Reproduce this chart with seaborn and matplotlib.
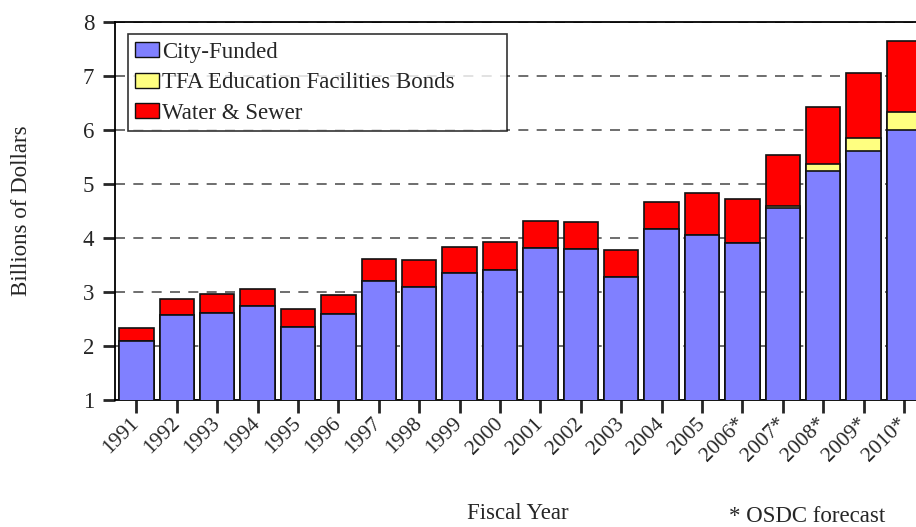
import pandas as pd
import seaborn as sns
import matplotlib.pyplot as plt
from matplotlib.patches import Patch

# Data (billions of dollars)
years = ['1991', '1992', '1993', '1994', '1995', '1996', '1997', '1998', '1999', '2000',
         '2001', '2002', '2003', '2004', '2005', '2006*', '2007*', '2008*', '2009*', '2010*']
city_funded = [2.10, 2.57, 2.62, 2.75, 2.35, 2.59, 3.21, 3.10, 3.35, 3.41,
               3.81, 3.80, 3.28, 4.17, 4.06, 3.91, 4.56, 5.24, 5.62, 6.00]
tfa_bonds = [0, 0, 0, 0, 0, 0, 0, 0, 0, 0,
             0, 0, 0, 0, 0, 0, 0.04, 0.13, 0.24, 0.34]
water_sewer = [0.23, 0.30, 0.34, 0.31, 0.33, 0.35, 0.41, 0.49, 0.48, 0.52,
               0.50, 0.50, 0.50, 0.50, 0.78, 0.82, 0.94, 1.05, 1.20, 1.31]

df = pd.DataFrame({'year': years, 'city': city_funded, 'tfa': tfa_bonds, 'water': water_sewer})
df['city_tfa'] = df['city'] + df['tfa']
df['total'] = df['city_tfa'] + df['water']

sns.set_style("ticks")
plt.rcParams['font.family'] = ['Liberation Serif', 'DejaVu Serif']

fig = plt.figure(figsize=(9.16, 5.27), dpi=100)
ax = fig.add_axes([115 / 916, 127 / 527, 810 / 916, 378 / 527])

blue = '#8080FF'
yellow = '#FFFF80'
red = '#FF0000'
edge = '#111111'

# stacked look: draw cumulative totals back to front
sns.barplot(data=df, x='year', y='total', color=red, width=0.85, edgecolor=edge,
            linewidth=1.2, saturation=1, ax=ax, zorder=2)
sns.barplot(data=df, x='year', y='city_tfa', color=yellow, width=0.85, edgecolor=edge,
            linewidth=1.2, saturation=1, ax=ax, zorder=3)
sns.barplot(data=df, x='year', y='city', color=blue, width=0.85, edgecolor=edge,
            linewidth=1.2, saturation=1, ax=ax, zorder=4)

ax.set_ylim(1, 8)
ax.set_xlim(-0.53, 19.52)
ax.set_yticks(range(1, 9))
ax.set_axisbelow(True)
ax.yaxis.grid(True, linestyle=(0, (6, 5)), color='#555555', linewidth=1.2)

for s in ['left', 'bottom', 'top', 'right']:
    ax.spines[s].set_color('black')
    ax.spines[s].set_linewidth(1.3)

ax.tick_params(axis='y', direction='out', length=9, width=2, labelsize=16.5, pad=6)
ax.tick_params(axis='x', direction='out', length=9, width=2, labelsize=15.5, pad=6)
plt.setp(ax.get_xticklabels(), rotation=45, ha='right', va='center', rotation_mode='anchor')

ax.set_xlabel('')
ax.set_ylabel('Billions of Dollars', fontsize=16.5)
ax.yaxis.set_label_coords(-0.1025, 0.5)
fig.text(518 / 916, 1 - 519 / 527, 'Fiscal Year', fontsize=16.5, ha='center', va='baseline')
fig.text(807 / 916, 1 - 522 / 527, '* OSDC forecast', fontsize=16.5, ha='center', va='baseline')

handles = [Patch(facecolor=blue, edgecolor=edge, linewidth=1.0, label='City-Funded'),
           Patch(facecolor=yellow, edgecolor=edge, linewidth=1.0, label='TFA Education Facilities Bonds'),
           Patch(facecolor=red, edgecolor=edge, linewidth=1.0, label='Water & Sewer')]
leg = ax.legend(handles=handles, loc='upper left', bbox_to_anchor=(0.0157, 0.968, 0.468, 0.0),
                mode='expand', borderaxespad=0, fontsize=16.5, frameon=True, fancybox=False,
                handlelength=1.05, handleheight=0.62, handletextpad=0.1,
                labelspacing=0.42, borderpad=0.33)
leg.get_frame().set_edgecolor('black')
leg.get_frame().set_linewidth(1.2)
leg.set_zorder(10)

fig.savefig('out.png', dpi=100)
